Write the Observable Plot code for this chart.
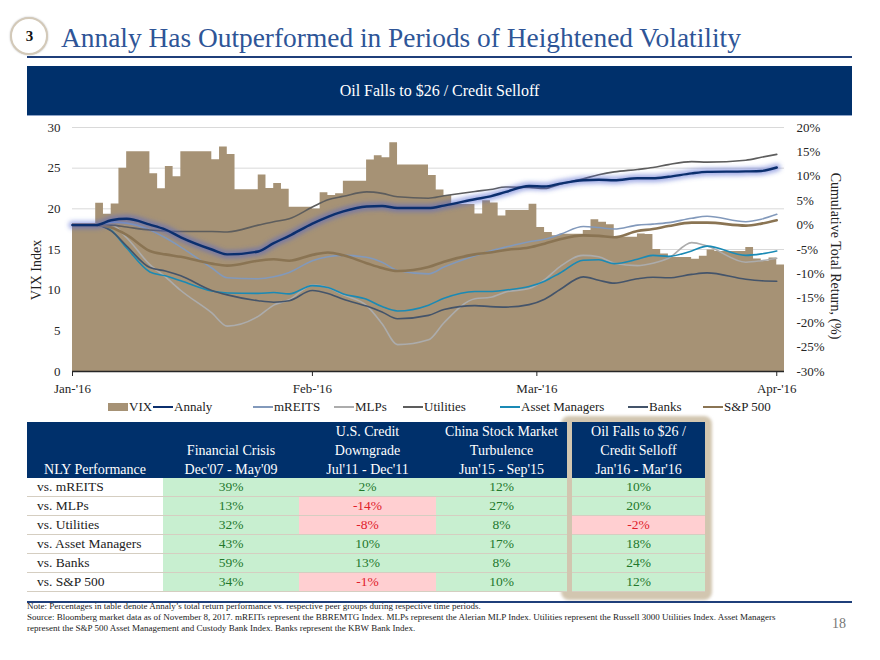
<!DOCTYPE html>
<html><head><meta charset="utf-8">
<script src="https://cdn.jsdelivr.net/npm/d3@7"></script>
<script src="https://cdn.jsdelivr.net/npm/@observablehq/plot@0.6"></script>
<style>
body{margin:0;width:880px;height:660px;position:relative;background:#fff;font-family:"Liberation Serif",serif;overflow:hidden;color:#222}
.abs{position:absolute}
.rot{position:absolute;white-space:nowrap;transform-origin:center center}
.cell{position:absolute;box-sizing:border-box;display:flex;align-items:center;justify-content:center;font-size:13.5px;white-space:nowrap}
.hcell{position:absolute;box-sizing:border-box;color:#fff;font-size:14px;line-height:19px;text-align:center;white-space:nowrap}
.leg{position:absolute;font-size:13px;white-space:nowrap;line-height:14px}
</style></head><body>
<div id="page"></div>
<script>
// ---------------- DATA ----------------
const titleText = "Annaly Has Outperformed in Periods of Heightened Volatility";
const bannerText = "Oil Falls to $26 / Credit Selloff";

// VIX closes (trading days; held until next trading day)
const vixDates = ["2016-01-01","2016-01-04","2016-01-05","2016-01-06","2016-01-07","2016-01-08","2016-01-11","2016-01-12","2016-01-13","2016-01-14","2016-01-15","2016-01-19","2016-01-20","2016-01-21","2016-01-22","2016-01-25","2016-01-26","2016-01-27","2016-01-28","2016-01-29","2016-02-01","2016-02-02","2016-02-03","2016-02-04","2016-02-05","2016-02-08","2016-02-09","2016-02-10","2016-02-11","2016-02-12","2016-02-16","2016-02-17","2016-02-18","2016-02-19","2016-02-22","2016-02-23","2016-02-24","2016-02-25","2016-02-26","2016-02-29","2016-03-01","2016-03-02","2016-03-03","2016-03-04","2016-03-07","2016-03-08","2016-03-09","2016-03-10","2016-03-11","2016-03-14","2016-03-15","2016-03-16","2016-03-17","2016-03-18","2016-03-21","2016-03-22","2016-03-23","2016-03-24","2016-03-28","2016-03-29","2016-03-30","2016-03-31","2016-04-01"];
const vixValues = [18.21,20.70,19.34,20.59,24.99,27.01,24.30,22.47,25.22,23.95,27.02,26.05,27.59,26.69,22.34,24.15,22.50,23.11,22.42,20.20,19.98,21.98,21.65,21.84,23.38,26.00,26.54,26.29,28.14,25.40,24.11,22.31,21.64,20.53,19.38,20.98,20.72,19.11,19.81,20.55,17.70,17.09,16.70,16.86,17.35,18.67,18.34,18.05,16.50,16.92,16.84,14.99,14.44,14.02,13.79,14.17,14.94,14.74,15.24,13.82,13.56,13.95,13.10];

// Cumulative total return (%) sample dates
const lineDates = ["2016-01-01","2016-01-04","2016-01-06","2016-01-08","2016-01-11","2016-01-13","2016-01-15","2016-01-19","2016-01-21","2016-01-25","2016-01-27","2016-01-29","2016-02-01","2016-02-03","2016-02-05","2016-02-08","2016-02-10","2016-02-12","2016-02-16","2016-02-18","2016-02-22","2016-02-24","2016-02-26","2016-02-29","2016-03-02","2016-03-04","2016-03-07","2016-03-09","2016-03-11","2016-03-14","2016-03-16","2016-03-18","2016-03-21","2016-03-23","2016-03-28","2016-03-30","2016-04-01"];
const annaly    = [0,0,1.0,1.3,0.1,-0.9,-2.5,-5.0,-6.0,-5.4,-3.7,-2.2,0.3,1.7,2.8,3.8,3.9,3.5,3.5,4.0,5.3,5.9,6.8,8.0,7.9,8.5,9.2,9.3,9.2,9.6,9.6,9.9,10.6,10.9,11.0,11.1,11.8];
const mreits    = [0,0,0.6,0.4,-1.0,-2.6,-4.5,-8.8,-10.8,-11.0,-10.6,-9.7,-7.3,-6.5,-6.2,-6.6,-7.6,-9.3,-10.0,-8.6,-6.3,-5.3,-4.5,-3.4,-2.9,-1.9,-0.3,-0.5,-0.8,0,0.2,0.5,1.4,1.8,0.7,1.2,2.2];
const mlps      = [0,0,0.1,-2.6,-8.1,-10.6,-13.4,-18.0,-20.7,-18.7,-16.4,-15.3,-12.3,-12.8,-14.3,-16.5,-20.2,-24.5,-23.5,-20.0,-15.1,-14.8,-13.7,-13.0,-11.2,-8.5,-6.2,-6.5,-7.8,-8.3,-7.8,-6.8,-3.6,-4.3,-7.6,-7.3,-6.8];
const utilities = [0,0,0,-0.4,-1.0,-1.2,-1.3,-1.3,-1.4,0,0.7,1.3,3.7,5.2,5.9,6.8,6.5,5.8,5.5,6.0,6.9,7.3,7.8,7.7,7.5,8.4,9.5,10.3,10.9,11.4,11.8,12.4,13.0,12.9,13.3,13.9,14.5];
const assetMgrs = [0,0,-1.1,-4.7,-9.6,-10.4,-11.4,-13.5,-13.9,-14.0,-13.8,-14.1,-12.4,-12.8,-14.1,-15.2,-16.7,-17.6,-16.4,-15.0,-13.6,-13.6,-13.3,-12.6,-11.5,-9.8,-7.2,-7.1,-7.9,-7.0,-6.2,-6.4,-5.3,-4.3,-6.2,-5.9,-5.3];
const banks     = [0,0,-1.2,-4.3,-8.7,-9.4,-10.4,-13.4,-14.3,-15.5,-15.8,-15.5,-13.4,-14.0,-15.2,-16.6,-17.8,-19.2,-18.5,-17.3,-16.5,-16.7,-16.8,-16.3,-15.2,-13.2,-10.6,-11.3,-11.9,-11.0,-10.7,-10.8,-10.1,-9.8,-11.1,-11.4,-11.5];
const sp500     = [0,0,-0.5,-2.0,-5.3,-6.0,-6.5,-7.9,-8.3,-7.3,-7.0,-7.3,-6.1,-5.6,-6.2,-7.8,-8.8,-9.4,-8.6,-7.5,-6.0,-5.6,-5.1,-4.6,-3.8,-2.9,-2.1,-2.2,-2.5,-1.2,-0.8,-0.2,0.5,0.5,-0.1,0.3,1.0];

const seriesNames = ["VIX","Annaly","mREITS","MLPs","Utilities","Asset Managers","Banks","S&P 500"];
const leftTicks = [0,5,10,15,20,25,30];
const rightTicks = [20,15,10,5,0,-5,-10,-15,-20,-25,-30];
const monthTicks = ["2016-01-01","2016-02-01","2016-03-01","2016-04-01"];
const monthLabels = ["Jan-'16","Feb-'16","Mar-'16","Apr-'16"];
const axisLeftTitle = "VIX Index";
const axisRightTitle = "Cumulative Total Return, (%)";

// Table
const tableHeaders = [["","","NLY Performance"],["","Financial Crisis","Dec'07 - May'09"],["U.S. Credit","Downgrade","Jul'11 - Dec'11"],["China Stock Market","Turbulence","Jun'15 - Sep'15"],["Oil Falls to $26 /","Credit Selloff","Jan'16 - Mar'16"]];
const tableRows = ["vs. mREITS","vs. MLPs","vs. Utilities","vs. Asset Managers","vs. Banks","vs. S&P 500"];
const tableValues = [[39,2,12,10],[13,-14,27,20],[32,-8,8,-2],[43,10,17,18],[59,13,8,24],[34,-1,10,12]];

const notes = ["Note: Percentages in table denote Annaly\u2019s total return performance vs. respective peer groups during respective time periods.",
"Source: Bloomberg market data as of November 8, 2017. mREITs represent the BBREMTG Index. MLPs represent the Alerian MLP Index. Utilities represent the Russell 3000 Utilities Index. Asset Managers",
"represent the S&P 500 Asset Management and Custody Bank Index. Banks represent the KBW Bank Index."];
const pageNumber = "18";

// ---------------- STYLES ----------------
const C = {navy:"#00306b", title:"#2e5597", vix:"#a69275", annaly:"#0b2f6e", glow:"#4d63d0",
  mreits:"#8299bb", mlps:"#acacac", utilities:"#5d5d5d", am:"#1a8ab5", banks:"#44546a", sp:"#8a7453"};
const lineStyles = {"mREITS":[C.mreits,1.6],"MLPs":[C.mlps,1.6],"Utilities":[C.utilities,1.6],"Asset Managers":[C.am,1.6],"Banks":[C.banks,1.6],"S&P 500":[C.sp,2.6]};

// ---------------- BUILD ----------------
const page = document.getElementById("page");
function add(html){ page.insertAdjacentHTML("beforeend", html); }

// header
add(`<div class="abs" style="left:10px;top:17px;width:34px;height:34px;border-radius:50%;border:2.5px solid #d3c9b8;background:#fff;box-shadow:0 0 2px #bbb;"></div>`);
add(`<div class="abs" style="left:10px;top:17px;width:39px;height:39px;display:flex;align-items:center;justify-content:center;font-size:15px;font-weight:bold;color:#111;">3</div>`);
add(`<div class="abs" style="left:61px;top:21px;font-size:27.4px;color:${C.title};white-space:nowrap;line-height:34px;">${titleText}</div>`);
add(`<div class="abs" style="left:27px;top:56px;width:825px;height:2px;background:#1f3f7a;"></div>`);
add(`<div class="abs" style="left:27px;top:66px;width:825px;height:49px;background:${C.navy};border-bottom:1px solid #8ea3c7;color:#fff;font-size:16px;display:flex;align-items:center;justify-content:center;">${bannerText}</div>`);

// chart
const pd = s => new Date(s + "T00:00:00Z");
const toLeft = r => (r + 30) * 0.6;
const vix = vixDates.map((d,i) => ({date: pd(d), v: vixValues[i]}));
const vixArea = vix.concat([{date: d3.utcDay.offset(vix[vix.length-1].date, 1), v: vix[vix.length-1].v}]);
const mk = vals => lineDates.map((d,i) => ({date: pd(d), r: vals[i]}));
const seriesVals = {"mREITS":mreits,"MLPs":mlps,"Utilities":utilities,"Asset Managers":assetMgrs,"Banks":banks,"S&P 500":sp500};
const lineMarks = Object.keys(seriesVals).map(n => Plot.line(mk(seriesVals[n]), {x:"date", y: d => toLeft(d.r), stroke: lineStyles[n][0], strokeWidth: lineStyles[n][1], curve:"monotone-x"}));
const mTicks = monthTicks.map(pd);

const chart = Plot.plot({
  width: 880, height: 280,
  marginTop: 9, marginBottom: 27, marginLeft: 72, marginRight: 96,
  x: {type:"utc", domain:[pd("2016-01-01"), pd("2016-04-02")], label:null},
  y: {domain:[0,30], label:null},
  style: {fontFamily:"'Liberation Serif', serif", fontSize:"13px", color:"#262626", background:"transparent", overflow:"visible"},
  marks: [
    Plot.gridY(leftTicks, {stroke:"#d9d9d9", strokeOpacity:1}),
    Plot.areaY(vixArea, {x:"date", y:"v", curve:"step-after", fill:C.vix}),
    ...lineMarks,
    Plot.line(mk(annaly), {x:"date", y: d => toLeft(d.r), stroke:C.glow, strokeWidth:8, strokeOpacity:0.5, curve:"monotone-x", ariaDescription:"annaly-glow"}),
    Plot.line(mk(annaly), {x:"date", y: d => toLeft(d.r), stroke:C.annaly, strokeWidth:2.4, curve:"monotone-x"}),
    Plot.ruleY([0], {stroke:"#262626", strokeWidth:1.3}),
    Plot.axisX(mTicks, {tickSize:5, tickPadding:7, stroke:"#262626", tickFormat: d => monthLabels[mTicks.findIndex(t => +t === +d)], label:null}),
    Plot.axisY(leftTicks, {anchor:"left", tickSize:0, tickPadding:12, label:null}),
    Plot.axisY(rightTicks.map(toLeft), {anchor:"right", tickSize:0, tickPadding:12, label:null, tickFormat: v => Math.round(v/0.6 - 30) + "%"})
  ]
});
const holder = document.createElement("div");
holder.className = "abs"; holder.style.left = "0px"; holder.style.top = "118px";
holder.appendChild(chart);
page.appendChild(holder);
// glow blur
const ns = "http://www.w3.org/2000/svg";
const defs = document.createElementNS(ns, "defs");
defs.innerHTML = `<filter id="glowblur" x="-10%" y="-50%" width="120%" height="200%"><feGaussianBlur stdDeviation="2.2"/></filter>`;
chart.insertBefore(defs, chart.firstChild);
const gg = chart.querySelector('[aria-description="annaly-glow"]');
if (gg) gg.setAttribute("filter", "url(#glowblur)");

add(`<div class="rot" style="left:37px;top:270px;font-size:14px;transform:translate(-50%,-50%) rotate(-90deg);">${axisLeftTitle}</div>`);
add(`<div class="rot" style="left:835px;top:256px;font-size:14px;transform:translate(-50%,-50%) rotate(90deg);">${axisRightTitle}</div>`);

// legend
const legX = [108,153,253,334,403,500,628,703];
const legColor = [C.vix,C.annaly,C.mreits,C.mlps,C.utilities,C.am,C.banks,C.sp];
const legH = [8,2.2,1.8,1.8,1.8,1.8,1.8,2.8];
seriesNames.forEach((n,i) => {
  const h = legH[i];
  add(`<div class="abs" style="left:${legX[i]}px;top:${407 - h/2}px;width:20px;height:${h}px;background:${legColor[i]};"></div>`);
  add(`<div class="leg" style="left:${legX[i]+21}px;top:400px;">${n.replace("&","&amp;")}</div>`);
});

// table
const colX = [27,163,299,436,572], colW = [136,136,137,131,133];
add(`<div class="abs" style="left:561px;top:416px;width:151px;height:184px;background:#d2c6b0;border-radius:8px;filter:blur(1.5px);"></div>`);
tableHeaders.forEach((lines,j) => {
  add(`<div class="hcell" style="left:${colX[j]}px;top:422px;width:${colW[j]}px;height:56px;background:${C.navy};">${lines.map(l => `<div style="height:19px">${l || "&nbsp;"}</div>`).join("")}</div>`);
});
tableRows.forEach((lab,i) => {
  const top = 478 + i*19;
  add(`<div class="cell" style="left:${colX[0]}px;top:${top}px;width:${colW[0]}px;height:19px;justify-content:flex-start;padding-left:10px;background:#fff;border-bottom:1px solid #d5cec1;">${lab}</div>`);
  tableValues[i].forEach((v,j) => {
    const pos = v >= 0;
    add(`<div class="cell" style="left:${colX[j+1]}px;top:${top}px;width:${colW[j+1]}px;height:19px;background:${pos ? "#c8efd0" : "#ffcfd1"};color:${pos ? "#23782c" : "#e0202a"};border-bottom:1px solid #d5cec1;">${v}%</div>`);
  });
});

// footer
add(`<div class="abs" style="left:27px;top:601px;width:825px;height:2px;background:#1f3f7a;"></div>`);
notes.forEach((t,i) => {
  add(`<div class="abs" style="left:27px;top:${601 + i*11.2}px;font-size:9px;line-height:11px;white-space:nowrap;color:#222;">${t.replace(/&/g,"&amp;")}</div>`);
});
add(`<div class="abs" style="left:832px;top:616px;font-size:14px;color:#777;">${pageNumber}</div>`);
</script>
</body></html>
